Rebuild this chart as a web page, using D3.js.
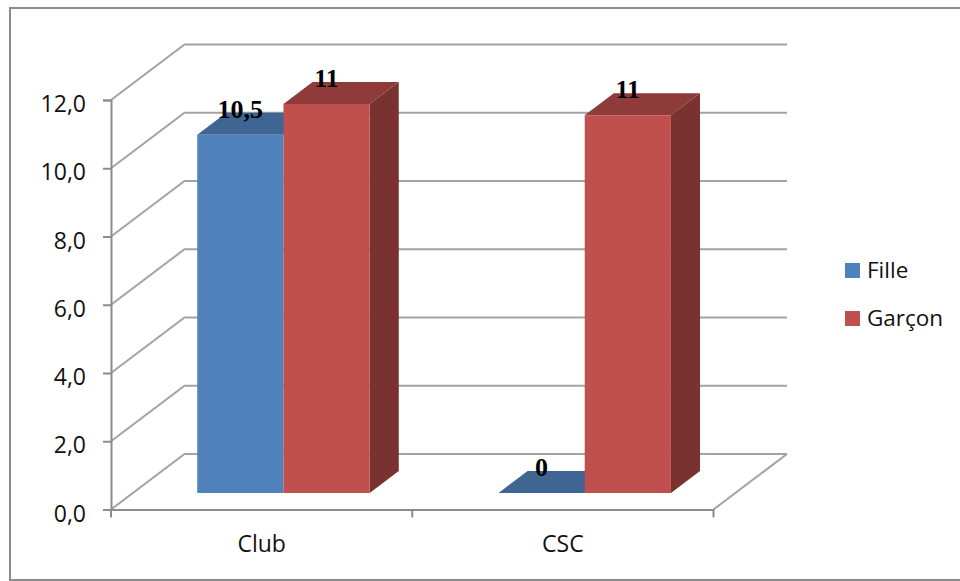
<!DOCTYPE html>
<html lang="fr">
<head>
<meta charset="UTF-8">
<title>Fille / Garçon</title>
<script src="https://d3js.org/d3.v7.min.js"></script>
<style>
  html, body { margin: 0; padding: 0; background: #fff; }
  svg { display: block; }
  text { font-family: "Open Sans", sans-serif; fill: #111; }
</style>
</head>
<body>
<svg id="chart" width="960" height="581"></svg>
<script>
var categories = ["Club", "CSC"];
var series = ["Fille", "Garçon"];
var fille = [10.5, 0];
var garcon = [11.4, 11.07];
// the printed labels are rounded, the bars are not
var filleLabels = ["10,5", "0"];
var garconLabels = ["11", "11"];
var yTicks = [0, 2, 4, 6, 8, 10, 12];

var colors = {
  Fille: { front: "#4f81bd", top: "#3f6593" },
  "Garçon": { front: "#c0504d", top: "#8f3b39", side: "#7a3230" }
};

var svg = d3.select("#chart");

// outer frame, runs off the right edge of the picture
svg.append("path")
  .attr("d", "M970,8H10V580H970")
  .attr("fill", "none").attr("stroke", "#8c8c8c").attr("stroke-width", 2);

var x0 = d3.scaleBand().domain(categories).range([111, 713.5]);
var x1 = d3.scaleBand().domain(series).range([0, x0.bandwidth()]).paddingInner(0).paddingOuter(0.747);
var y = d3.scaleLinear().domain([0, 12]).range([509.5, 100]);

// fake 3d: depth z goes from 0 (front plane) to 1 (back wall)
var depthX = 73.5, depthY = 55.5;
var barZ0 = 0.297, barZ1 = 0.693;
function pt(px, v, z) {
  return [px + depthX * z, y(v) - depthY * z];
}
function poly(points) {
  return points.map(function (p) { return p.join(","); }).join(" ");
}

// side wall and back wall gridlines
var grid = svg.append("g").attr("fill", "none").attr("stroke", "#a3a3a3").attr("stroke-width", 2);
yTicks.forEach(function (t) {
  grid.append("polyline")
    .attr("points", poly([pt(111, t, 0), pt(111, t, 1), pt(713.5, t, 1)]));
});
// right edge of the floor
grid.append("line")
  .attr("x1", pt(713.5, 0, 0)[0]).attr("y1", pt(713.5, 0, 0)[1])
  .attr("x2", pt(713.5, 0, 1)[0]).attr("y2", pt(713.5, 0, 1)[1]);

// axes
var yAxis = svg.append("g")
  .attr("transform", "translate(111,0)")
  .call(d3.axisLeft(y).tickValues(yTicks).tickSize(8).tickPadding(17)
    .tickFormat(function (d) { return d3.format(".1f")(d).replace(".", ","); }));
var xAxis = svg.append("g")
  .attr("transform", "translate(0,509.5)")
  .call(d3.axisBottom(x0).tickSize(0).tickPadding(26));

// category ticks sit between the bands, not on the centres
xAxis.selectAll(".edge").data(x0.domain().concat("end")).enter().append("line")
  .attr("class", "edge")
  .attr("x1", function (d) { return d === "end" ? x0.range()[1] : x0(d); })
  .attr("x2", function (d) { return d === "end" ? x0.range()[1] : x0(d); })
  .attr("y1", 0).attr("y2", 8);

[yAxis, xAxis].forEach(function (a) {
  a.selectAll("path, line").attr("stroke", "#8c8c8c").attr("stroke-width", 2);
  a.selectAll("text").style("font-size", "23px").attr("font-family", null);
});
yAxis.selectAll("text").attr("dy", "0.5em");

// bars
function drawBar(cat, name, v) {
  var l = x0(cat) + x1(name), r = l + x1.bandwidth();
  var c = colors[name];
  var g = svg.append("g");
  // top face
  g.append("polygon")
    .attr("points", poly([pt(l, v, barZ0), pt(r, v, barZ0), pt(r, v, barZ1), pt(l, v, barZ1)]))
    .attr("fill", c.top);
  if (v > 0) {
    if (c.side) {
      g.append("polygon")
        .attr("points", poly([pt(r, 0, barZ0), pt(r, v, barZ0), pt(r, v, barZ1), pt(r, 0, barZ1)]))
        .attr("fill", c.side);
    }
    g.append("polygon")
      .attr("points", poly([pt(l, 0, barZ0), pt(r, 0, barZ0), pt(r, v, barZ0), pt(l, v, barZ0)]))
      .attr("fill", c.front);
  }
}
categories.forEach(function (cat, i) {
  drawBar(cat, "Fille", fille[i]);
  drawBar(cat, "Garçon", garcon[i]);
});

// value labels go on top of everything
function drawLabel(cat, name, v, label) {
  var p = pt(x0(cat) + x1(name) + x1.bandwidth() / 2, v, barZ0);
  svg.append("text")
    .attr("x", p[0]).attr("y", p[1] - 17)
    .attr("text-anchor", "middle")
    .style("font-family", '"Liberation Serif", serif')
    .style("font-weight", "bold")
    .style("font-size", "26px")
    .style("fill", "#000")
    .text(label);
}
categories.forEach(function (cat, i) {
  drawLabel(cat, "Fille", fille[i], filleLabels[i]);
  drawLabel(cat, "Garçon", garcon[i], garconLabels[i]);
});

// legend
var legend = svg.selectAll(".legend").data(series).enter().append("g")
  .attr("class", "legend")
  .attr("transform", function (d, i) { return "translate(845," + (263 + i * 48) + ")"; });
legend.append("rect")
  .attr("width", 15).attr("height", 15)
  .attr("fill", function (d) { return colors[d].front; });
legend.append("text")
  .attr("x", 22).attr("y", 15)
  .style("font-size", "22.5px")
  .text(function (d) { return d; });
</script>
</body>
</html>
